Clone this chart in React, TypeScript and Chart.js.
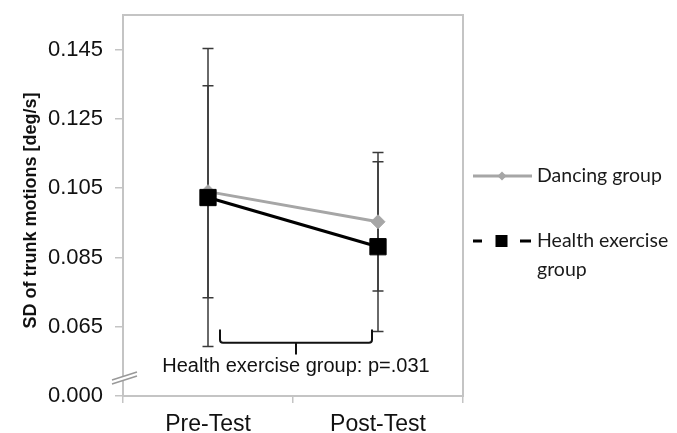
import React, { useEffect, useRef } from 'react';
import { Chart, registerables } from 'chart.js';

Chart.register(...registerables);

const categories = ['Pre-Test', 'Post-Test'];
const dancingMeans = [0.104, 0.0953];
const dancingErrors = [0.0306, 0.02];
const healthMeans = [0.1023, 0.0881];
const healthErrors = [0.043, 0.0245];
const yTickValues = [0.045, 0.065, 0.085, 0.105, 0.125, 0.145];
const yTickLabels = ['0.000', '0.065', '0.085', '0.105', '0.125', '0.145'];
const seriesNames = ['Dancing group', 'Health exercise group'];
const yAxisTitle = 'SD of trunk motions [deg/s]';
const annotationText = 'Health exercise group: p=.031';
const Y_MIN = 0.045;
const Y_MAX = 0.155;

const DANCING_COLOR = '#a6a6a6';
const HEALTH_COLOR = '#000000';
const FRAME_COLOR = '#c4c4c4';
const ARIAL = '"Liberation Sans", Arial, sans-serif';

const decorPlugin = {
  id: 'decor',
  beforeDatasetsDraw(chart: any) {
    const { ctx, chartArea: a, scales } = chart;
    const xs = scales.x;
    const ys = scales.y;
    ctx.save();
    // plot frame
    ctx.strokeStyle = FRAME_COLOR;
    ctx.lineWidth = 2;
    ctx.strokeRect(a.left, a.top, a.right - a.left, a.bottom - a.top);
    // error bars
    ctx.strokeStyle = '#3a3a3a';
    ctx.lineWidth = 1.5;
    const drawErr = (means: number[], errs: number[]) => {
      means.forEach((m, i) => {
        const px = xs.getPixelForValue(i);
        const top = ys.getPixelForValue(m + errs[i]);
        const bot = ys.getPixelForValue(m - errs[i]);
        ctx.beginPath();
        ctx.moveTo(px, top);
        ctx.lineTo(px, bot);
        ctx.moveTo(px - 5.5, top);
        ctx.lineTo(px + 5.5, top);
        ctx.moveTo(px - 5.5, bot);
        ctx.lineTo(px + 5.5, bot);
        ctx.stroke();
      });
    };
    drawErr(dancingMeans, dancingErrors);
    drawErr(healthMeans, healthErrors);
    ctx.restore();
  },
  afterDraw(chart: any) {
    const { ctx, chartArea: a, scales } = chart;
    const xs = scales.x;
    const ys = scales.y;
    ctx.save();

    // axis break marks
    const by = ys.getPixelForValue(0.0508);
    ctx.fillStyle = '#ffffff';
    ctx.beginPath();
    ctx.moveTo(a.left - 11, by + 4);
    ctx.lineTo(a.left + 14, by - 4);
    ctx.lineTo(a.left + 14, by);
    ctx.lineTo(a.left - 11, by + 8);
    ctx.closePath();
    ctx.fill();
    ctx.strokeStyle = '#999999';
    ctx.lineWidth = 1.5;
    ctx.beginPath();
    ctx.moveTo(a.left - 11, by + 4);
    ctx.lineTo(a.left + 14, by - 4);
    ctx.moveTo(a.left - 11, by + 8);
    ctx.lineTo(a.left + 14, by);
    ctx.stroke();

    // bracket
    const bl = xs.getPixelForValue(0) + 12;
    const br = xs.getPixelForValue(1) - 6;
    const bm = (bl + br) / 2;
    const bTop = ys.getPixelForValue(0.0642);
    const bBot = ys.getPixelForValue(0.0604);
    const bTip = ys.getPixelForValue(0.057);
    ctx.strokeStyle = '#111111';
    ctx.lineWidth = 2;
    ctx.beginPath();
    ctx.moveTo(bl, bTop);
    ctx.lineTo(bl, bBot - 3);
    ctx.quadraticCurveTo(bl, bBot, bl + 3, bBot);
    ctx.lineTo(br - 3, bBot);
    ctx.quadraticCurveTo(br, bBot, br, bBot - 3);
    ctx.lineTo(br, bTop);
    ctx.moveTo(bm, bBot);
    ctx.lineTo(bm, bTip);
    ctx.stroke();

    // annotation text
    ctx.fillStyle = '#111111';
    ctx.font = `20px ${ARIAL}`;
    ctx.textAlign = 'center';
    ctx.textBaseline = 'middle';
    ctx.fillText(annotationText, bm, ys.getPixelForValue(0.0535));

    // y-axis title
    ctx.save();
    ctx.translate(31, (a.top + a.bottom) / 2 + 5);
    ctx.rotate(-Math.PI / 2);
    ctx.font = `bold 18px ${ARIAL}`;
    ctx.textAlign = 'center';
    ctx.textBaseline = 'middle';
    ctx.fillStyle = '#111111';
    ctx.fillText(yAxisTitle, 0, 0);
    ctx.restore();

    // legend
    const lx = a.right + 10;
    const tx = a.right + 74;
    const y1 = a.top + 161;
    const y2 = a.top + 226;
    ctx.font = '19.5px Lato, sans-serif';
    ctx.textAlign = 'left';
    ctx.textBaseline = 'middle';
    // dancing entry
    ctx.strokeStyle = DANCING_COLOR;
    ctx.lineWidth = 3;
    ctx.beginPath();
    ctx.moveTo(lx, y1);
    ctx.lineTo(lx + 59, y1);
    ctx.stroke();
    ctx.fillStyle = DANCING_COLOR;
    ctx.beginPath();
    const dx = lx + 29;
    ctx.moveTo(dx, y1 - 4.5);
    ctx.lineTo(dx + 4.5, y1);
    ctx.lineTo(dx, y1 + 4.5);
    ctx.lineTo(dx - 4.5, y1);
    ctx.closePath();
    ctx.fill();
    ctx.fillStyle = '#1a1a1a';
    ctx.fillText(seriesNames[0], tx, y1);
    // health entry
    ctx.strokeStyle = HEALTH_COLOR;
    ctx.lineWidth = 3;
    ctx.beginPath();
    ctx.moveTo(lx, y2);
    ctx.lineTo(lx + 9, y2);
    ctx.moveTo(lx + 47, y2);
    ctx.lineTo(lx + 58, y2);
    ctx.stroke();
    ctx.fillStyle = HEALTH_COLOR;
    ctx.fillRect(lx + 22.5, y2 - 6, 12, 12);
    ctx.fillStyle = '#1a1a1a';
    const maxW = chart.width - tx - 2;
    const words = seriesNames[1].split(' ');
    const lines: string[] = [];
    let cur = '';
    words.forEach((w) => {
      const t = cur ? cur + ' ' + w : w;
      if (cur && ctx.measureText(t).width > maxW) {
        lines.push(cur);
        cur = w;
      } else {
        cur = t;
      }
    });
    if (cur) lines.push(cur);
    lines.forEach((ln, i) => ctx.fillText(ln, tx, y2 + i * 29));

    ctx.restore();
  },
};

export default function App() {
  const canvasRef = useRef<HTMLCanvasElement | null>(null);

  useEffect(() => {
    if (!canvasRef.current) return;
    const chart = new Chart(canvasRef.current, {
      type: 'line',
      data: {
        labels: categories,
        datasets: [
          {
            label: seriesNames[0],
            data: dancingMeans,
            borderColor: DANCING_COLOR,
            backgroundColor: DANCING_COLOR,
            borderWidth: 3,
            pointStyle: 'rectRot',
            pointRadius: 7,
            pointBackgroundColor: DANCING_COLOR,
            pointBorderColor: DANCING_COLOR,
            pointBorderWidth: 1,
            order: 1,
          },
          {
            label: seriesNames[1],
            data: healthMeans,
            borderColor: HEALTH_COLOR,
            backgroundColor: HEALTH_COLOR,
            borderWidth: 3.2,
            pointStyle: 'rect',
            pointRadius: 11.5,
            pointBackgroundColor: HEALTH_COLOR,
            pointBorderColor: HEALTH_COLOR,
            pointBorderWidth: 1,
            order: 0,
          },
        ],
      },
      options: {
        responsive: false,
        animation: false,
        events: [],
        layout: { padding: { left: 0, top: 15, right: 214, bottom: 0 } },
        plugins: {
          legend: { display: false },
          tooltip: { enabled: false },
        },
        scales: {
          x: {
            type: 'category',
            offset: true,
            border: { display: false },
            grid: {
              offset: true,
              drawOnChartArea: false,
              tickLength: 7,
              color: FRAME_COLOR,
              lineWidth: 1.5,
            },
            ticks: {
              color: '#111111',
              font: { family: ARIAL, size: 23 },
              padding: 8,
            },
            afterFit: (scale: any) => {
              scale.height = 37;
              scale.paddingLeft = 0;
              scale.paddingRight = 0;
            },
          },
          y: {
            type: 'linear',
            min: Y_MIN,
            max: Y_MAX,
            border: { display: false },
            grid: {
              drawOnChartArea: false,
              tickLength: 8,
              color: FRAME_COLOR,
              lineWidth: 1.5,
            },
            ticks: {
              color: '#111111',
              font: { family: ARIAL, size: 22 },
              padding: 12,
              callback: (_v: any, i: number) => yTickLabels[i],
            },
            afterBuildTicks: (scale: any) => {
              scale.ticks = yTickValues.map((v) => ({ value: v }));
            },
            afterFit: (scale: any) => {
              scale.width = 123;
              scale.paddingTop = 0;
              scale.paddingBottom = 0;
            },
          },
        },
      },
      plugins: [decorPlugin],
    });
    return () => chart.destroy();
  }, []);

  return (
    <div style={{ position: 'fixed', left: 0, top: 0, width: 677, height: 433, background: '#fff' }}>
      <canvas ref={canvasRef} width={677} height={433} />
    </div>
  );
}
